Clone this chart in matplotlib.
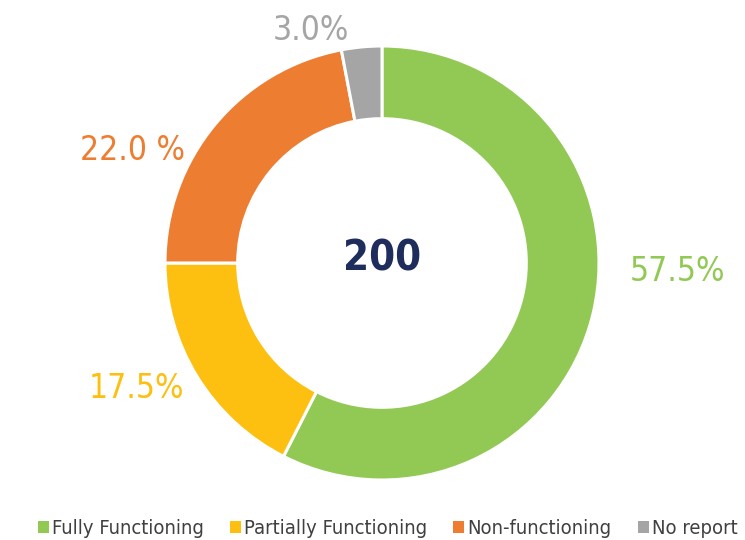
import matplotlib.pyplot as plt
from matplotlib.patches import Patch

# data
labels = ['Fully Functioning', 'Partially Functioning', 'Non-functioning', 'No report']
values = [57.5, 17.5, 22.0, 3.0]
colors = ['#92C955', '#FDBF10', '#ED7D31', '#A5A5A5']
pct_text = ['57.5%', '17.5%', '22.0 %', '3.0%']
total = 200

# label anchor spots (axes data coords, radius 1 = outer edge)
label_pos = [(1.36, -0.04), (-1.13, -0.58), (-1.15, 0.52), (-0.33, 1.07)]

plt.rcParams['font.family'] = ['DejaVu Sans']
plt.rcParams['font.stretch'] = 'condensed'

fig = plt.figure(figsize=(7.45, 5.40), dpi=100)
cx, cy, r = 382, 263, 217
ax = fig.add_axes([(cx - r) / 745, (540 - cy - r) / 540, 2 * r / 745, 2 * r / 540])

ax.pie(values, colors=colors, startangle=90, counterclock=False, radius=1,
       wedgeprops=dict(width=0.335, edgecolor='white', linewidth=2.2))
ax.set_xlim(-1, 1)
ax.set_ylim(-1, 1)
ax.set_aspect('equal')
ax.axis('off')

ax.text(0, 0.02, str(total), ha='center', va='center', fontsize=30,
        fontweight='bold', color='#1F2D5C')

for (x, y), t, c in zip(label_pos, pct_text, colors):
    ax.text(x, y, t, ha='center', va='center', fontsize=24, color=c,
            clip_on=False)

handles = [Patch(facecolor=c, edgecolor='none') for c in colors]
fig.legend(handles, labels, loc='lower center', ncol=4, frameon=False,
           bbox_to_anchor=(0.52, -0.03), fontsize=14.5, handlelength=0.55,
           handleheight=0.55, handletextpad=0.15, columnspacing=1.3,
           labelcolor='#404040')

fig.savefig('out.png', dpi=100)
